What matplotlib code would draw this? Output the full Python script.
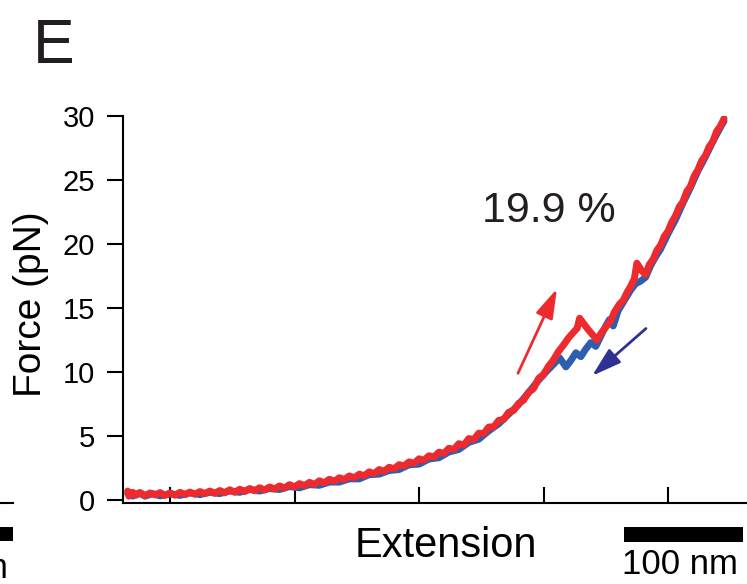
import matplotlib
matplotlib.use("Agg")
import matplotlib.pyplot as plt
from matplotlib.patches import Rectangle

plt.rcParams['font.family'] = ['Liberation Sans', 'DejaVu Sans']

# stretching trace (red), extension in nm, force in pN
ext_red = [66, 67, 70, 73, 76, 80, 84, 88, 92, 96, 100, 104, 108, 112, 116, 120, 124, 128,
           132, 136, 140, 144, 148, 152, 156, 160, 164, 168, 172, 176, 180, 184, 188, 192,
           196, 200, 204, 208, 212, 216, 220, 224, 228, 232, 236, 240, 244, 248, 252, 256,
           260, 264, 268, 272, 276, 280, 284, 288, 292, 296, 300, 304, 308, 312, 316, 320,
           324, 328, 332, 336, 340, 344, 348, 352, 356, 360, 364, 368, 372, 376, 380, 384,
           388, 392, 396, 400, 404, 408, 412, 416, 420, 424, 427, 429, 436, 443, 446, 450,
           454, 457, 461, 464, 467, 470, 473, 475, 479, 482, 485, 488, 491, 494, 497, 500,
           503, 506, 509, 512, 515, 518, 521, 524, 527, 530, 533, 536, 539, 542, 545]
force_red = [0.7, 0.3, 0.6, 0.38, 0.58, 0.35, 0.55, 0.4, 0.58, 0.36, 0.55, 0.38, 0.6, 0.42,
             0.62, 0.45, 0.66, 0.5, 0.7, 0.52, 0.74, 0.56, 0.8, 0.6, 0.84, 0.66, 0.9, 0.72,
             0.96, 0.78, 1.02, 0.86, 1.1, 0.94, 1.2, 1.02, 1.28, 1.12, 1.38, 1.22, 1.5, 1.34,
             1.62, 1.46, 1.74, 1.6, 1.88, 1.74, 2.02, 1.9, 2.2, 2.06, 2.38, 2.24, 2.56, 2.44,
             2.76, 2.66, 2.98, 2.86, 3.22, 3.1, 3.46, 3.36, 3.74, 3.64, 4.04, 3.96, 4.4, 4.3,
             4.8, 4.72, 5.22, 5.2, 5.7, 5.72, 6.22, 6.3, 6.85, 7.0, 7.55, 7.8, 8.4, 8.7, 9.5,
             9.8, 10.45, 10.95, 11.6, 12.1, 12.65, 13.1, 13.4, 14.2, 13.3, 12.5, 13.0, 13.5,
             14.0, 14.7, 15.3, 15.6, 16.2, 16.7, 17.3, 18.5, 17.9, 17.6, 18.4, 18.8, 19.5,
             19.9, 20.6, 21.0, 21.7, 22.2, 22.9, 23.3, 24.1, 24.5, 25.3, 25.8, 26.5, 26.9,
             27.6, 28.0, 28.8, 29.2, 29.8]

# relaxing trace (blue)
ext_blue = [66, 70, 75, 80, 86, 92, 100, 108, 116, 124, 132, 140, 148, 156, 164, 172, 180,
            188, 196, 204, 212, 220, 228, 236, 244, 252, 260, 268, 276, 284, 292, 300, 308,
            316, 324, 332, 340, 348, 356, 364, 372, 380, 388, 396, 402, 408, 413, 418, 422,
            426, 430, 434, 438, 442, 446, 450, 453, 456, 460, 465, 470, 474, 478, 482, 486,
            490, 494, 500, 506, 512, 518, 524, 530, 536, 542, 545]
force_blue = [0.5, 0.3, 0.55, 0.3, 0.5, 0.32, 0.48, 0.36, 0.55, 0.42, 0.6, 0.5, 0.7, 0.6,
              0.82, 0.7, 0.9, 0.82, 1.05, 0.95, 1.2, 1.15, 1.4, 1.4, 1.65, 1.65, 1.98, 2.02,
              2.3, 2.38, 2.75, 2.8, 3.2, 3.3, 3.75, 3.95, 4.5, 4.75, 5.4, 5.95, 6.7, 7.45, 8.4,
              9.35, 10.0, 10.6, 11.1, 10.4, 10.9, 11.5, 11.2, 11.8, 12.3, 12.0, 12.8, 13.6,
              14.1, 13.6, 14.8, 15.6, 16.4, 16.9, 17.1, 17.4, 18.3, 19.0, 19.6, 20.8, 21.9,
              23.2, 24.4, 25.7, 26.8, 28.0, 29.1, 29.6]

yticks = [0, 5, 10, 15, 20, 25, 30]
xticks = [100, 200, 300, 400, 500]
hysteresis_label = "19.9 %"

RED = "#ee2a2e"
BLUE = "#2d5fae"
NAVY = "#2e3192"

W, H = 747, 584
fig = plt.figure(figsize=(W / 100, H / 100), dpi=100)
ax = fig.add_axes([123 / W, 81 / H, (W - 123) / W, (503 - 116) / H])

ax.plot(ext_blue, force_blue, color=BLUE, lw=5, solid_joinstyle='round', solid_capstyle='round')
ax.plot(ext_red, force_red, color=RED, lw=5, solid_joinstyle='round', solid_capstyle='round')

ax.set_xlim(62.25, 563.45)
ax.set_ylim(-0.234, 30)
ax.set_yticks(yticks)
ax.set_xticks(xticks)
ax.set_xticklabels([])
ax.tick_params(axis='y', direction='out', length=11.5, width=1.5, labelsize=21, pad=8.5)
ax.tick_params(axis='x', direction='in', length=11.5, width=1.5)
for s in ['top', 'right']:
    ax.spines[s].set_visible(False)
for s in ['left', 'bottom']:
    ax.spines[s].set_linewidth(1.5)

# arrows: stretching (red, up) and relaxing (navy, down)
ax.annotate('', xy=(410.8, 16.5), xytext=(379.5, 9.9),
            arrowprops=dict(arrowstyle='-|>,head_length=1.8,head_width=0.55', color=RED, lw=2,
                            shrinkA=0, shrinkB=0))
ax.annotate('', xy=(439.0, 9.7), xytext=(482.3, 13.4),
            arrowprops=dict(arrowstyle='-|>,head_length=1.8,head_width=0.55', color=NAVY, lw=2,
                            shrinkA=0, shrinkB=0))

fig.text(482 / W, 1 - 222 / H, hysteresis_label, fontsize=31, color='#231f20', va='baseline', ha='left')
fig.text(31 / W, 1 - 304 / H, "Force (pN)", fontsize=28, rotation=90, ha='center', va='center')
fig.text(446 / W, 1 - 557 / H, "Extension", fontsize=30, ha='center', va='baseline')
fig.text(33 / W, 1 - 63 / H, "E", fontsize=45, color='#231f20', ha='left', va='baseline')

# scale bar
fig.patches.append(Rectangle((624 / W, 1 - 542 / H), 119 / W, 15 / H, transform=fig.transFigure,
                             color='black', lw=0))
fig.text(680 / W, 1 - 574 / H, "100 nm", fontsize=25, ha='center', va='baseline')

# remains of neighbouring panel at left edge
fig.add_artist(plt.Line2D([0, 13 / W], [1 - 503 / H, 1 - 503 / H], transform=fig.transFigure,
                          color='black', lw=1.5))
fig.patches.append(Rectangle((0, 1 - 541 / H), 13 / W, 14 / H, transform=fig.transFigure,
                             color='black', lw=0))
fig.text(8 / W, 1 - 578 / H, "100 nm", fontsize=25, ha='right', va='baseline')

fig.savefig("out.png", dpi=100)
